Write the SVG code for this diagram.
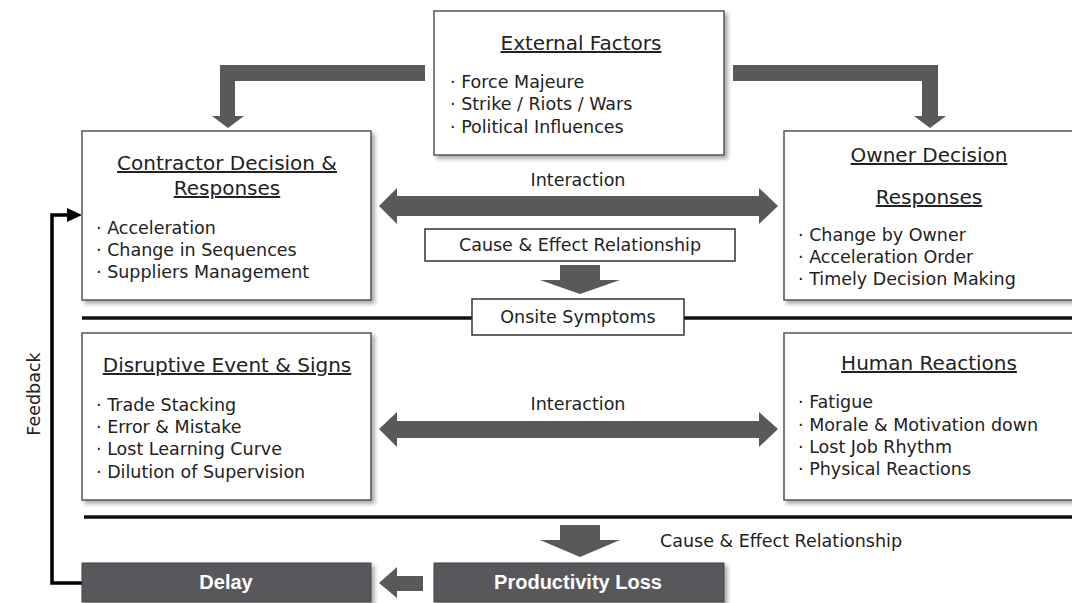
<svg xmlns="http://www.w3.org/2000/svg" width="1072" height="603" viewBox="0 0 1072 603">
<defs>
<filter id="sh" x="-5%" y="-5%" width="115%" height="120%">
<feDropShadow dx="3" dy="3" stdDeviation="2" flood-color="#000" flood-opacity="0.35"/>
</filter>
</defs>
<style>
.box{fill:#fff;stroke:#555;stroke-width:1.5;filter:url(#sh)}
.flat{fill:#fff;stroke:#333;stroke-width:1.5}
.dbox{fill:#58595b;stroke:#444;stroke-width:1;filter:url(#sh)}
.arr{fill:#58595b}
.t{font-family:"DejaVu Sans","Noto Sans",sans-serif;fill:#222}
.title{font-size:20px;text-anchor:middle;text-decoration:underline}
.b{font-size:17.5px}
.lbl{font-size:17.5px}
.dt{font-family:"Liberation Sans",Arial,sans-serif;font-weight:bold;font-size:20px;fill:#fff;text-anchor:middle}
.hl{stroke:#111;stroke-width:3.5;fill:none}
</style>
<rect width="1072" height="603" fill="#fff"/>

<g id="connectors">
<path class="arr" d="M425,65 L220,65 L220,116 L212,116 L228,128 L244,116 L235,116 L235,81 L425,81 Z"/>
<path class="arr" d="M733,65 L938,65 L938,116 L946,116 L930,128 L914,116 L922,116 L922,81 L733,81 Z"/>
<path class="arr" d="M379,206 L397,188 L397,196 L759,196 L759,188 L778,206 L759,224 L759,216 L397,216 L397,224 Z"/>
<path class="arr" d="M379,429 L397,412 L397,421 L759,421 L759,412 L778,429 L759,447 L759,438 L397,438 L397,447 Z"/>
<path class="arr" d="M560,265 L600,265 L600,280 L620,280 L580,294 L540,280 L560,280 Z"/>
<path class="arr" d="M560,525 L600,525 L600,540 L620,540 L580,557 L540,540 L560,540 Z"/>
<path class="arr" d="M423,576 L397,576 L397,567 L379,583 L397,598 L397,591 L423,591 Z"/>
<line class="hl" x1="82" y1="318" x2="1072" y2="318"/>
<line class="hl" x1="84" y1="517" x2="1072" y2="517"/>
<path d="M82,583 L52,583 L52,215 L69,215" fill="none" stroke="#000" stroke-width="3.5" stroke-linejoin="miter"/>
<path d="M67,208 L82,215 L67,222 Z" fill="#000"/>
<text class="t lbl" transform="translate(40,394) rotate(-90)" text-anchor="middle">Feedback</text>
<text class="t lbl" x="578" y="186" text-anchor="middle">Interaction</text>
<text class="t lbl" x="578" y="410" text-anchor="middle">Interaction</text>
<text class="t lbl" x="660" y="547">Cause &amp; Effect Relationship</text>
</g>

<g id="external">
<rect class="box" x="434" y="11" width="290" height="144"/>
<text class="t title" x="581" y="50">External Factors</text>
<text class="t b" x="450" y="88">· Force Majeure</text>
<text class="t b" x="450" y="110">· Strike / Riots / Wars</text>
<text class="t b" x="450" y="133">· Political Influences</text>
</g>

<g id="contractor">
<rect class="box" x="82" y="131" width="289" height="169"/>
<text class="t title" x="227" y="170">Contractor Decision &amp;</text>
<text class="t title" x="227" y="195">Responses</text>
<text class="t b" x="96" y="234">· Acceleration</text>
<text class="t b" x="96" y="256">· Change in Sequences</text>
<text class="t b" x="96" y="278">· Suppliers Management</text>
</g>

<g id="owner">
<rect class="box" x="784" y="131" width="300" height="169"/>
<text class="t title" x="929" y="162">Owner Decision</text>
<text class="t title" x="929" y="204">Responses</text>
<text class="t b" x="798" y="241">· Change by Owner</text>
<text class="t b" x="798" y="263">· Acceleration Order</text>
<text class="t b" x="798" y="285">· Timely Decision Making</text>
</g>

<g id="cause1">
<rect class="flat" x="425" y="229" width="310" height="32"/>
<text class="t lbl" x="580" y="251" text-anchor="middle">Cause &amp; Effect Relationship</text>
</g>

<g id="onsite">
<rect class="flat" x="472" y="299" width="212" height="36"/>
<text class="t lbl" x="578" y="323" text-anchor="middle">Onsite Symptoms</text>
</g>

<g id="disruptive">
<rect class="box" x="82" y="333" width="289" height="167"/>
<text class="t title" x="227" y="372">Disruptive Event &amp; Signs</text>
<text class="t b" x="96" y="411">· Trade Stacking</text>
<text class="t b" x="96" y="433">· Error &amp; Mistake</text>
<text class="t b" x="96" y="455">· Lost Learning Curve</text>
<text class="t b" x="96" y="478">· Dilution of Supervision</text>
</g>

<g id="human">
<rect class="box" x="784" y="333" width="300" height="167"/>
<text class="t title" x="929" y="370">Human Reactions</text>
<text class="t b" x="798" y="408">· Fatigue</text>
<text class="t b" x="798" y="431">· Morale &amp; Motivation down</text>
<text class="t b" x="798" y="453">· Lost Job Rhythm</text>
<text class="t b" x="798" y="475">· Physical Reactions</text>
</g>

<g id="productivity">
<rect class="dbox" x="434" y="563" width="290" height="39"/>
<text class="dt" x="578" y="589">Productivity Loss</text>
</g>

<g id="delay">
<rect class="dbox" x="82" y="563" width="289" height="39"/>
<text class="dt" x="226" y="589">Delay</text>
</g>
</svg>
